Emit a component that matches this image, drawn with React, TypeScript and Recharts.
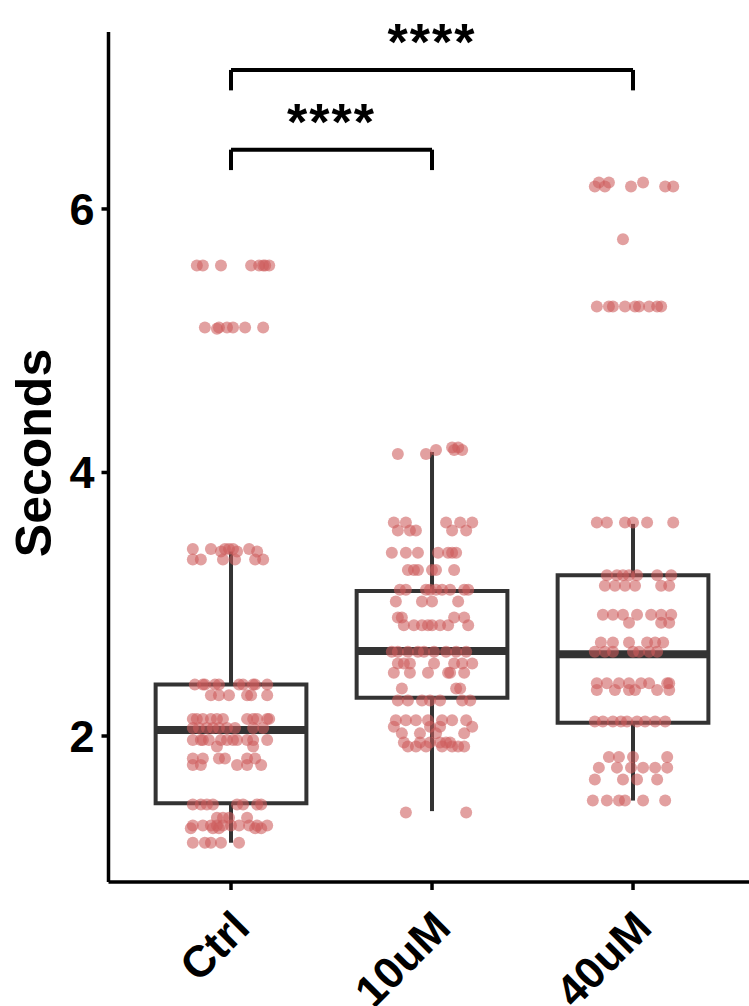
import React from 'react';
import { ComposedChart, Scatter, XAxis, YAxis, ReferenceArea, ReferenceLine } from 'recharts';

const categories = ['Ctrl', '10uM', '40uM'];
const categoryX = [1, 2, 3];
const yTicks = [2, 4, 6];

// box-plot statistics per category
const boxLow = [1.19, 1.43, 1.51];
const boxQ1 = [1.49, 2.29, 2.10];
const boxMedian = [2.045, 2.645, 2.62];
const boxQ3 = [2.39, 3.10, 3.22];
const boxHigh = [3.40, 4.155, 3.61];

// jittered observations: [value, jitter offsets]
const ctrlRows: [number, number[]][] = [
  [5.57, [-0.17, -0.14, -0.05, 0.10, 0.14, 0.16, 0.17, 0.19]],
  [5.10, [-0.13, -0.06, -0.02, 0.01, 0.07, 0.16]],
  [5.09, [-0.07]],
  [3.42, [-0.19, -0.10, -0.03, -0.01, 0.01, 0.09]],
  [3.40, [-0.05, 0.03, 0.13]],
  [3.34, [-0.19, -0.15, -0.04, 0.02, 0.12, 0.16]],
  [2.39, [-0.18, -0.14, -0.13, -0.08, -0.06, 0.04, 0.06, 0.11, 0.12, 0.18]],
  [2.31, [-0.10, -0.06, -0.01, 0.08, 0.10, 0.18]],
  [2.13, [-0.19, -0.17, -0.14, -0.10, -0.07, -0.04, 0.08, 0.11, 0.13, 0.18, 0.19]],
  [2.06, [-0.19, -0.16, -0.12, -0.09, -0.06, -0.02, 0.02, 0.11, 0.16]],
  [1.97, [-0.19, -0.15, -0.14, -0.11, -0.05, -0.02, 0.01, 0.03, 0.08, 0.11, 0.18]],
  [1.92, [-0.07, 0.11]],
  [1.83, [-0.19, -0.14, -0.06, -0.03, 0.08, 0.12]],
  [1.78, [-0.19, -0.15, 0.03, 0.08, 0.15]],
  [1.48, [-0.19, -0.15, -0.12, -0.09, 0.03, 0.06, 0.13, 0.15]],
  [1.38, [-0.07, -0.04, -0.01, 0.08]],
  [1.32, [-0.19, -0.14, -0.10, -0.07, -0.04, 0.00, 0.04, 0.09, 0.13, 0.18]],
  [1.30, [-0.20, -0.09, -0.06, 0.12, 0.15]],
  [1.19, [-0.19, -0.13, -0.10, -0.05, 0.04]],
];

const uM10Rows: [number, number[]][] = [
  [4.19, [0.10, 0.13]],
  [4.17, [0.02, 0.11, 0.15]],
  [4.14, [-0.17, -0.03]],
  [3.62, [-0.19, -0.13, 0.07, 0.14, 0.20]],
  [3.56, [-0.17, -0.11, -0.08, 0.10, 0.17]],
  [3.39, [-0.20, -0.13, -0.07, 0.03, 0.08, 0.10, 0.12]],
  [3.26, [-0.12, -0.09, -0.07, 0.00, 0.02, 0.11]],
  [3.11, [-0.16, -0.13, -0.03, -0.01, 0.02, 0.05, 0.09, 0.16, 0.18]],
  [3.02, [-0.18, -0.05, 0.00, 0.13]],
  [2.90, [-0.17, -0.15, 0.11, 0.16]],
  [2.84, [-0.14, -0.09, -0.05, -0.02, 0.00, 0.04, 0.08, 0.18]],
  [2.64, [-0.20, -0.17, -0.12, -0.07, -0.04, 0.01, 0.07, 0.12, 0.17]],
  [2.55, [-0.17, -0.14, -0.11, 0.01, 0.11, 0.15, 0.20]],
  [2.48, [-0.19, -0.11, -0.02, 0.08, 0.09, 0.16]],
  [2.36, [-0.15, 0.12, 0.14]],
  [2.27, [-0.17, -0.12, -0.05, -0.01, 0.04, 0.15, 0.19]],
  [2.12, [-0.18, -0.13, -0.08, -0.02, 0.05, 0.10, 0.17]],
  [2.07, [-0.19, -0.01, 0.04, 0.20]],
  [2.02, [-0.15, -0.06, 0.02, 0.16]],
  [1.95, [-0.14, -0.06, -0.01, 0.04, 0.07, 0.09]],
  [1.92, [-0.12, -0.08, -0.03, 0.05, 0.10, 0.13, 0.16]],
  [1.42, [-0.13, 0.17]],
];

const uM40Rows: [number, number[]][] = [
  [6.20, [-0.17, -0.12, 0.05]],
  [6.17, [-0.19, -0.14, -0.01, 0.16, 0.20]],
  [5.77, [-0.05]],
  [5.26, [-0.18, -0.12, -0.10, -0.04, 0.01, 0.03, 0.08, 0.12, 0.14]],
  [3.62, [-0.18, -0.13, -0.04, 0.00, 0.07, 0.20]],
  [3.22, [-0.13, -0.08, -0.05, -0.02, 0.02, 0.12, 0.19]],
  [3.14, [-0.14, -0.09, -0.04, 0.01, 0.14, 0.18]],
  [2.92, [-0.15, -0.10, -0.05, 0.02, 0.09, 0.14, 0.19]],
  [2.86, [-0.02, 0.14, 0.18]],
  [2.71, [-0.16, -0.10, -0.02, 0.07, 0.11, 0.15]],
  [2.64, [-0.19, -0.14, -0.10, 0.00, 0.03, 0.08, 0.12]],
  [2.40, [-0.18, -0.13, -0.07, -0.02, 0.04, 0.08, 0.17, 0.18]],
  [2.35, [-0.18, -0.09, -0.02, 0.01, 0.12, 0.18]],
  [2.11, [-0.19, -0.15, -0.10, -0.06, -0.03, 0.02, 0.06, 0.11, 0.16]],
  [1.84, [-0.12, -0.07, 0.00, 0.17]],
  [1.76, [-0.17, -0.08, -0.01, 0.05, 0.11, 0.17]],
  [1.67, [-0.19, -0.05, 0.02, 0.12]],
  [1.51, [-0.20, -0.13, -0.07, -0.04, 0.05, 0.16]],
];

// significance brackets
const bracketFrom = [1, 1];
const bracketTo = [2, 3];
const bracketY = [6.45, 7.055];
const bracketTip = [6.295, 6.90];
const bracketLabels = ['****', '****'];

const groupRows = [ctrlRows, uM10Rows, uM40Rows];
const points = groupRows.flatMap((rows, gi) =>
  rows.flatMap(([v, dxs]) => dxs.map((dx) => ({ x: categoryX[gi] + dx, y: v })))
);

const FONT = 'Liberation Sans, Arial, Helvetica, sans-serif';
const BOX_HALF = 0.375;
const BOX_COLOR = '#333333';

const XTick = (props: any) => {
  const { x, y, payload } = props;
  const idx = categoryX.indexOf(payload.value);
  const ax = x + 21;
  const ay = y + 38;
  return (
    <text
      x={ax}
      y={ay}
      transform={`rotate(-45, ${ax}, ${ay})`}
      textAnchor="end"
      fontSize={44}
      fontWeight="bold"
      fontFamily={FONT}
      fill="#000"
    >
      {categories[idx]}
    </text>
  );
};

const Dot = (props: any) => (
  <circle cx={props.cx} cy={props.cy} r={6} fill="#CD5C5C" fillOpacity={0.58} />
);

export default function App() {
  return (
    <div style={{ position: 'absolute', left: 0, top: 0, background: '#fff' }}>
      <ComposedChart
        width={749}
        height={1006}
        margin={{ top: 32, right: 0, bottom: 0, left: 0 }}
      >
        <XAxis
          type="number"
          dataKey="x"
          domain={[0.3905, 3.577]}
          allowDataOverflow
          ticks={categoryX}
          interval={0}
          height={124}
          tickSize={8}
          tickMargin={2}
          axisLine={{ stroke: '#000', strokeWidth: 3.5 }}
          tickLine={{ stroke: '#000', strokeWidth: 3.5 }}
          tick={<XTick />}
        />
        <YAxis
          type="number"
          dataKey="y"
          domain={[0.892, 7.343]}
          allowDataOverflow
          ticks={yTicks}
          interval={0}
          width={108.5}
          tickSize={7}
          tickMargin={7}
          axisLine={{ stroke: '#000', strokeWidth: 3.5 }}
          tickLine={{ stroke: '#000', strokeWidth: 3.5 }}
          tick={{ fontSize: 45, fontWeight: 'bold', fill: '#000', fontFamily: FONT }}
          label={{
            value: 'Seconds',
            content: () => (
              <text
                x={51}
                y={453}
                transform="rotate(-90, 51, 453)"
                textAnchor="middle"
                fontSize={50}
                fontWeight="bold"
                fontFamily={FONT}
                fill="#000"
              >
                Seconds
              </text>
            ),
          }}
        />
        {categoryX.map((c, i) => (
          <ReferenceLine
            key={`wl${i}`}
            segment={[{ x: c, y: boxLow[i] }, { x: c, y: boxQ1[i] }]}
            stroke={BOX_COLOR}
            strokeWidth={4}
          />
        ))}
        {categoryX.map((c, i) => (
          <ReferenceLine
            key={`wh${i}`}
            segment={[{ x: c, y: boxQ3[i] }, { x: c, y: boxHigh[i] }]}
            stroke={BOX_COLOR}
            strokeWidth={4}
          />
        ))}
        {categoryX.map((c, i) => (
          <ReferenceArea
            key={`box${i}`}
            x1={c - BOX_HALF}
            x2={c + BOX_HALF}
            y1={boxQ1[i]}
            y2={boxQ3[i]}
            fill="#fff"
            fillOpacity={1}
            stroke={BOX_COLOR}
            strokeWidth={4}
          />
        ))}
        {categoryX.map((c, i) => (
          <ReferenceLine
            key={`med${i}`}
            segment={[{ x: c - BOX_HALF, y: boxMedian[i] }, { x: c + BOX_HALF, y: boxMedian[i] }]}
            stroke={BOX_COLOR}
            strokeWidth={8}
          />
        ))}
        <Scatter data={points} dataKey="y" shape={<Dot />} isAnimationActive={false} />
        {bracketY.map((by, i) => (
          <ReferenceLine
            key={`bl${i}`}
            segment={[{ x: bracketFrom[i], y: bracketTip[i] }, { x: bracketFrom[i], y: by }]}
            stroke="#000"
            strokeWidth={4}
          />
        ))}
        {bracketY.map((by, i) => (
          <ReferenceLine
            key={`br${i}`}
            segment={[{ x: bracketTo[i], y: bracketTip[i] }, { x: bracketTo[i], y: by }]}
            stroke="#000"
            strokeWidth={4}
          />
        ))}
        {bracketY.map((by, i) => (
          <ReferenceLine
            key={`bh${i}`}
            segment={[{ x: bracketFrom[i], y: by }, { x: bracketTo[i], y: by }]}
            stroke="#000"
            strokeWidth={4}
            label={{
              value: bracketLabels[i],
              position: 'top',
              offset: 10,
              fontSize: 52,
              fontWeight: 'bold',
              letterSpacing: 2,
              fontFamily: FONT,
              fill: '#000',
            }}
          />
        ))}
      </ComposedChart>
    </div>
  );
}
